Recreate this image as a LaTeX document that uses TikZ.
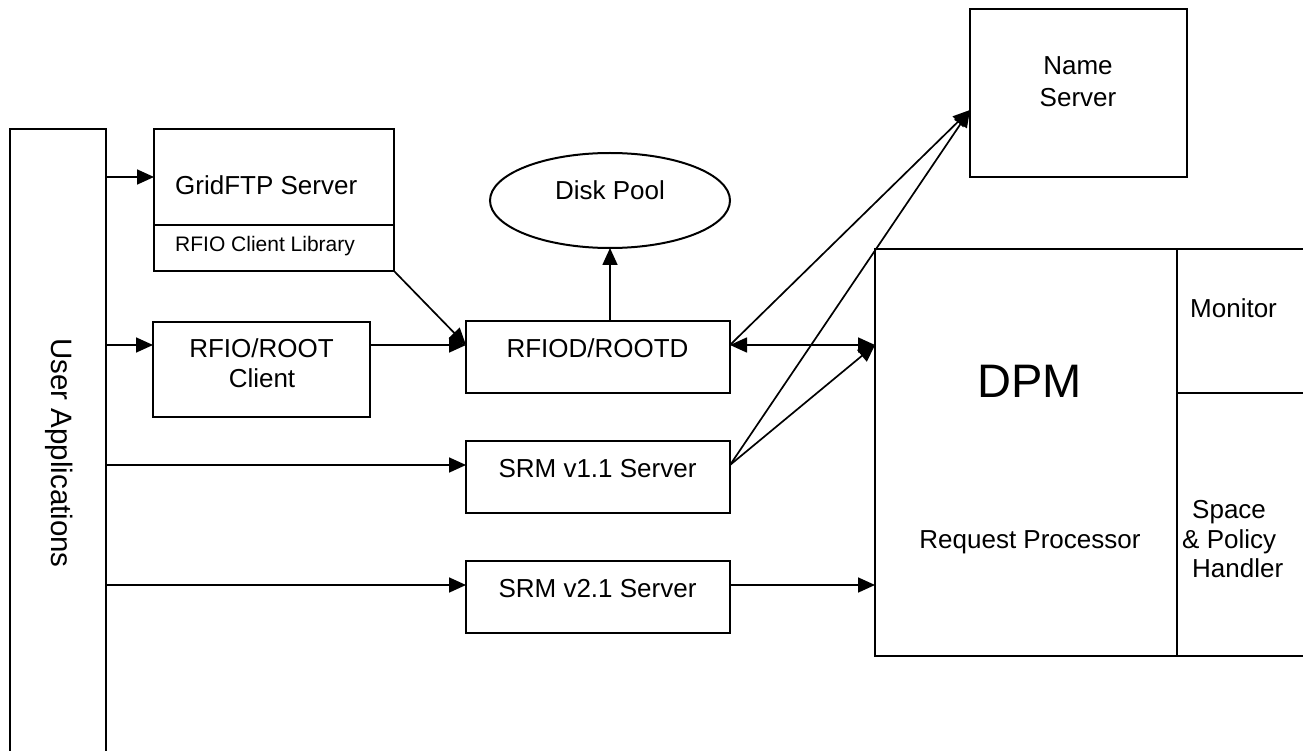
\documentclass[tikz,border=0pt]{standalone}
\usepackage{fontspec}
\setmainfont{Liberation Sans}
\usetikzlibrary{arrows.meta,shapes.geometric,calc}
\begin{document}
\begin{tikzpicture}[x=1pt,y=-1pt,
  box/.style={draw, line width=2pt, inner sep=0pt, outer sep=0pt, rectangle},
  conn/.style={line width=1.7pt},
  tip/.tip={Triangle[length=17pt,width=15pt]},
  arr/.style={conn, -tip},
  dblarr/.style={conn, tip-tip},
  txt/.style={font=\fontsize{26}{30}\selectfont, inner sep=0pt, anchor=base},
  small/.style={font=\fontsize{21}{25}\selectfont, inner sep=0pt, anchor=base west},
  big/.style={font=\fontsize{47}{52}\selectfont, inner sep=0pt, anchor=base},
]
\useasboundingbox (0,0) rectangle (1303,751);
\clip (0,0) rectangle (1303,751);

% boxes
\node[box, minimum width=96pt, minimum height=632pt] (UA) at (58,445) {};
\node[box, minimum width=240pt, minimum height=142pt] (gridftp) at (274,200) {};
\node[box, minimum width=217pt, minimum height=95pt] (rfioclient) at (261.5,369.5) {};
\node[draw, line width=2pt, ellipse, inner sep=0pt, outer sep=0pt, minimum width=240pt, minimum height=95pt] (diskpool) at (610,200.5) {};
\node[box, minimum width=264pt, minimum height=72pt] (rfiod) at (598,357) {};
\node[box, minimum width=264pt, minimum height=72pt] (srm1) at (598,477) {};
\node[box, minimum width=264pt, minimum height=72pt] (srm2) at (598,597) {};
\node[box, minimum width=217pt, minimum height=168pt] (nameserver) at (1078.5,93) {};
\node[box, minimum width=440pt, minimum height=407pt] (dpm) at (1095,452.5) {};

% dividers
\draw[line width=2pt] (gridftp.west |- 0,225) -- (gridftp.east |- 0,225);
\draw[line width=2pt] (1177,0 |- dpm.north) -- (1177,0 |- dpm.south);
\draw[line width=2pt] (1177,393) -- (dpm.east |- 0,393);

% texts
\node[txt, anchor=base west] (tgrid) at (175,195) {GridFTP Server};
\node[small] (tlib) at (175,252) {RFIO Client Library};
\node[txt] (trc1) at (261.5,357) {RFIO/ROOT};
\node[txt] (trc2) at (262,387) {Client};
\node[txt] (tdisk) at (610,200) {Disk Pool};
\node[txt] (trfiod) at (597.5,357) {RFIOD/ROOTD};
\node[txt] (tsrm1) at (597.5,477) {SRM v1.1 Server};
\node[txt] (tsrm2) at (597.5,597) {SRM v2.1 Server};
\node[txt] (tname1) at (1078,75) {Name};
\node[txt] (tname2) at (1078,107) {Server};
\node[big] (tdpm) at (1029.5,397) {DPM};
\node[txt] (treq) at (1030,548) {Request Processor};
\node[txt, anchor=base west] (tmon) at (1190,317) {Monitor};
\node[txt, anchor=base west] (tsp1) at (1192,518) {Space};
\node[txt, anchor=base west] (tsp2) at (1182,548) {\& Policy};
\node[txt, anchor=base west] (tsp3) at (1192,577) {Handler};
\node[font=\fontsize{29.5}{34}\selectfont, inner sep=0pt, rotate=-90, anchor=center] (tua) at (59,453) {User Applications};

% anchor points
\coordinate (g1) at ([yshift=-48pt]gridftp.north west);
\coordinate (r1) at ([yshift=-24pt]rfiod.north west);
\coordinate (r2) at ([yshift=-24pt]rfiod.north east);
\coordinate (ns1) at ([yshift=-101pt]nameserver.north west);
\coordinate (s1) at ([yshift=-24pt]srm1.north west);
\coordinate (s1e) at ([yshift=-24pt]srm1.north east);
\coordinate (s2) at ([yshift=-24pt]srm2.north west);
\coordinate (s2e) at ([yshift=-24pt]srm2.north east);

% connectors
\draw[arr] (UA.east |- g1) -- (g1);
\draw[arr] (UA.east |- r1) -- (rfioclient.west |- r1);
\draw[arr] (UA.east |- s1) -- (s1);
\draw[arr] (UA.east |- s2) -- (s2);
\draw[arr] (gridftp.south east) -- (r1);
\draw[arr] (rfioclient.east |- r1) -- (r1);
\draw[arr] (diskpool.south |- rfiod.north) -- (diskpool.south);
\draw[dblarr] (r2) -- (dpm.west |- r2);
\draw[arr] (r2) -- (ns1);
\draw[arr] (s1e) -- (ns1);
\draw[arr] (s1e) -- (dpm.west |- r2);
\draw[arr] (s2e) -- (dpm.west |- s2e);
\end{tikzpicture}
\end{document}
